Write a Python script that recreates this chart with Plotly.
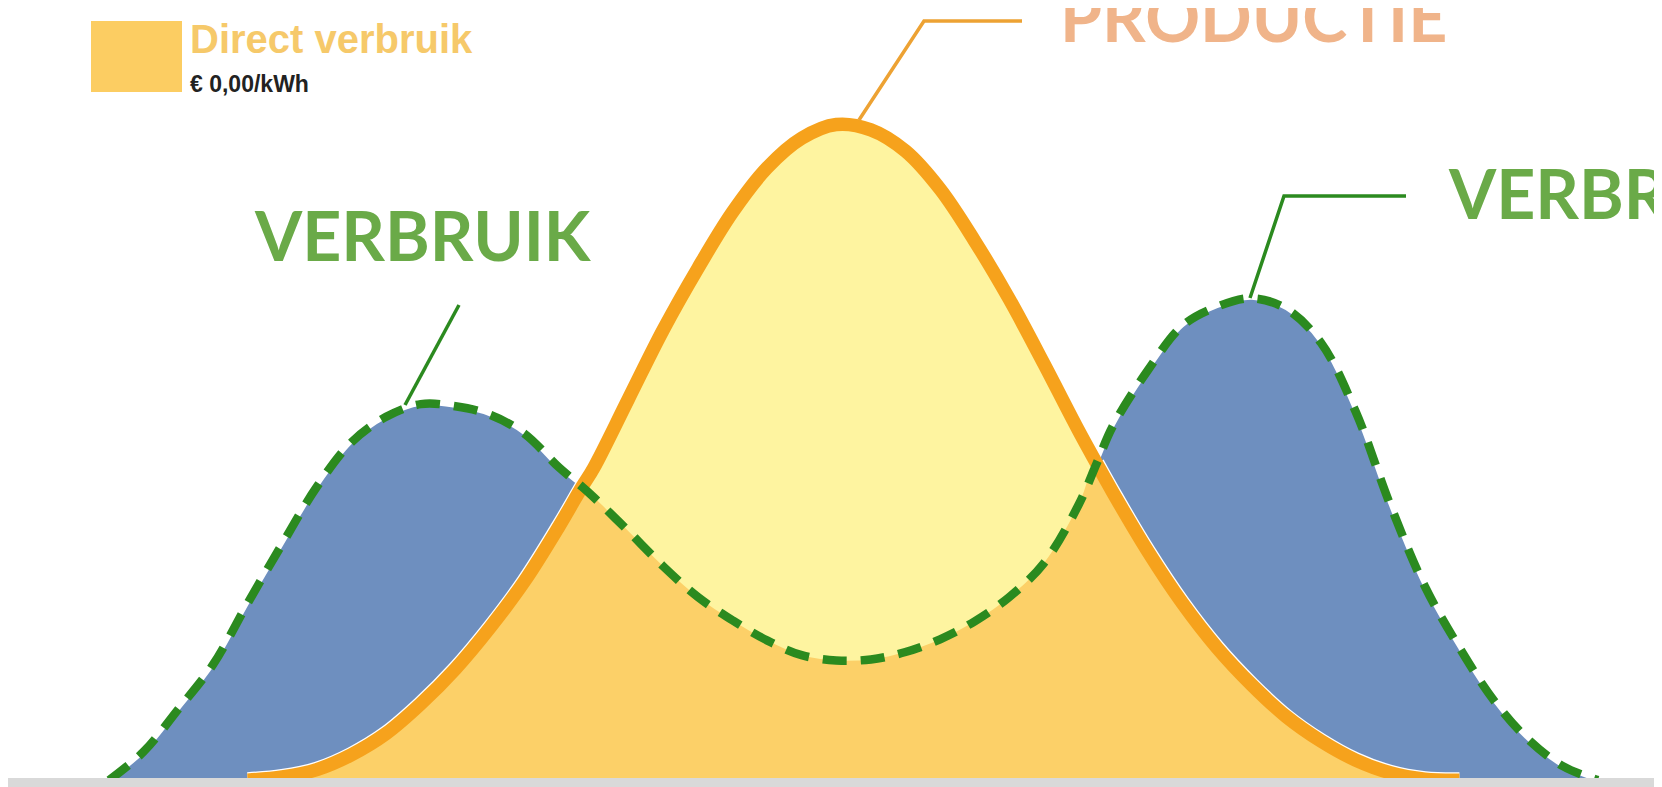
import numpy as np
import plotly.graph_objects as go

# ---- data ----
hours = [1.5, 2.0, 2.5, 3.0, 3.5, 4.0, 4.5, 5.0, 5.5, 6.0, 6.5, 7.0, 7.5, 8.0,
         8.33, 8.5, 9.0, 9.5, 10.0, 10.5, 11.0, 11.5, 12.0, 12.5, 13.0, 13.5,
         14.0, 14.5, 15.0, 15.5, 15.76, 16.0, 16.5, 17.0, 17.5, 18.0, 18.5,
         19.0, 19.5, 20.0, 20.5, 21.0, 21.5, 22.0, 22.5, 23.0]

verbruik = [0.00, 0.27, 0.67, 1.09, 1.67, 2.23, 2.77, 3.19, 3.43, 3.55, 3.53,
            3.45, 3.27, 2.95, 2.77, 2.67, 2.35, 2.02, 1.73, 1.51, 1.32, 1.18,
            1.13, 1.14, 1.21, 1.33, 1.50, 1.73, 2.05, 2.60, 2.99, 3.35, 3.87,
            4.29, 4.47, 4.55, 4.45, 4.13, 3.48, 2.60, 1.83, 1.25, 0.75, 0.38,
            0.13, 0.00]

productie = [0.00, 0.00, 0.00, 0.00, 0.00, 0.03, 0.10, 0.24, 0.44, 0.72, 1.05,
             1.44, 1.88, 2.40, 2.77, 2.95, 3.60, 4.25, 4.83, 5.36, 5.78, 6.06,
             6.19, 6.14, 5.94, 5.58, 5.09, 4.54, 3.93, 3.30, 2.99, 2.71, 2.16,
             1.67, 1.25, 0.90, 0.60, 0.37, 0.19, 0.07, 0.01, 0.00, 0.00, 0.00,
             0.00, 0.00]

label_verbruik = "VERBRUIK"
label_productie = "PRODUCTIE"
legend_title = "Direct verbruik"
legend_price = "€ 0,00/kWh"

# ---- styling ----
W, H = 1662, 787
BLUE = "#6E8FBF"
LIGHT_YELLOW = "#FEF4A0"
DIRECT = "#FCD068"
ORANGE = "#F6A21C"
GREEN = "#2B8A1F"
TXT_GREEN = "#6AAA48"
TXT_SALMON = "#F0B48A"

x = np.array(hours)
v = np.array(verbruik)
p = np.array(productie)
direct = np.minimum(v, p)

# production line only where it is above zero (plus the bordering zeros)
nz = p > 0
show = nz | np.roll(nz, 1) | np.roll(nz, -1)
p_line = [pv if s else None for pv, s in zip(p, show)]
# white edge along production where consumption is above it
edge = (v >= p) & show
p_edge = [pv if e else None for pv, e in zip(p, edge)]

spl = dict(shape="spline", smoothing=1.0)

fig = go.Figure()
fig.add_trace(go.Scatter(x=x, y=v, mode="lines", fill="tozeroy", fillcolor=BLUE,
                         line=dict(color="white", width=3, **spl), hoverinfo="skip"))
fig.add_trace(go.Scatter(x=x, y=p, mode="lines", fill="tozeroy", fillcolor=LIGHT_YELLOW,
                         line=dict(color=LIGHT_YELLOW, width=0, **spl), hoverinfo="skip"))
fig.add_trace(go.Scatter(x=x, y=p_edge, mode="lines", connectgaps=False,
                         line=dict(color="white", width=16, **spl), hoverinfo="skip"))
fig.add_trace(go.Scatter(x=x, y=direct, mode="lines", fill="tozeroy", fillcolor=DIRECT,
                         line=dict(color=DIRECT, width=0, **spl), hoverinfo="skip"))
fig.add_trace(go.Scatter(x=x, y=p_line, mode="lines", connectgaps=False,
                         line=dict(color=ORANGE, width=13.5, **spl), hoverinfo="skip"))
fig.add_trace(go.Scatter(x=x, y=v, mode="lines",
                         line=dict(color=GREEN, width=8.5, dash="24px,14px", **spl),
                         hoverinfo="skip"))


def px(xp):
    return xp / W


def py(yp):
    return 1 - yp / H


shapes = [
    # grey base strip
    dict(type="rect", xref="paper", yref="y", x0=0, x1=1, y0=-0.5, y1=0.02,
         fillcolor="#D9D9D9", line=dict(width=0), layer="above"),
    # leader lines
    dict(type="path", xref="paper", yref="paper",
         path=f"M {px(397)} {py(397)} L {px(451)} {py(297)}",
         line=dict(color=GREEN, width=3.5)),
    dict(type="path", xref="paper", yref="paper",
         path=f"M {px(851)} {py(112)} L {px(916)} {py(13)} L {px(1014)} {py(13)}",
         line=dict(color="#EDA233", width=3.5)),
    dict(type="path", xref="paper", yref="paper",
         path=f"M {px(1242)} {py(290)} L {px(1276)} {py(188)} L {px(1398)} {py(188)}",
         line=dict(color=GREEN, width=3.5)),
    # legend swatch
    dict(type="rect", xref="paper", yref="paper", x0=px(83), x1=px(174),
         y0=py(84), y1=py(13), fillcolor="#FCCD62", line=dict(width=0)),
]

big = dict(family="Lato", size=68)
annotations = [
    dict(text=f"<b>{label_verbruik}</b>", xref="paper", yref="paper", x=px(244), y=py(226),
         xanchor="left", yanchor="middle", showarrow=False,
         font=dict(color=TXT_GREEN, **big)),
    dict(text=f"<b>{label_productie}</b>", xref="paper", yref="paper", x=px(1050), y=py(8),
         xanchor="left", yanchor="middle", showarrow=False,
         font=dict(color=TXT_SALMON, **big)),
    dict(text=f"<b>{label_verbruik}</b>", xref="paper", yref="paper", x=px(1438), y=py(184),
         xanchor="left", yanchor="middle", showarrow=False,
         font=dict(color=TXT_GREEN, **big)),
    dict(text=f"<b>{legend_title}</b>", xref="paper", yref="paper", x=px(180), y=py(31),
         xanchor="left", yanchor="middle", showarrow=False,
         font=dict(family="Liberation Sans", size=40, color="#F6C96A")),
    dict(text=f"<b>{legend_price}</b>", xref="paper", yref="paper", x=px(180), y=py(76),
         xanchor="left", yanchor="middle", showarrow=False,
         font=dict(family="Liberation Sans", size=23, color="#222222")),
]

fig.update_layout(
    width=W, height=H, margin=dict(l=0, r=0, t=0, b=0),
    paper_bgcolor="white", plot_bgcolor="white", showlegend=False,
    xaxis=dict(range=[0.04, 24.04], visible=False, fixedrange=True),
    yaxis=dict(range=[-0.14, 7.29], visible=False, fixedrange=True),
    shapes=shapes, annotations=annotations,
)

fig.write_html("out.html", config={"displayModeBar": False})
